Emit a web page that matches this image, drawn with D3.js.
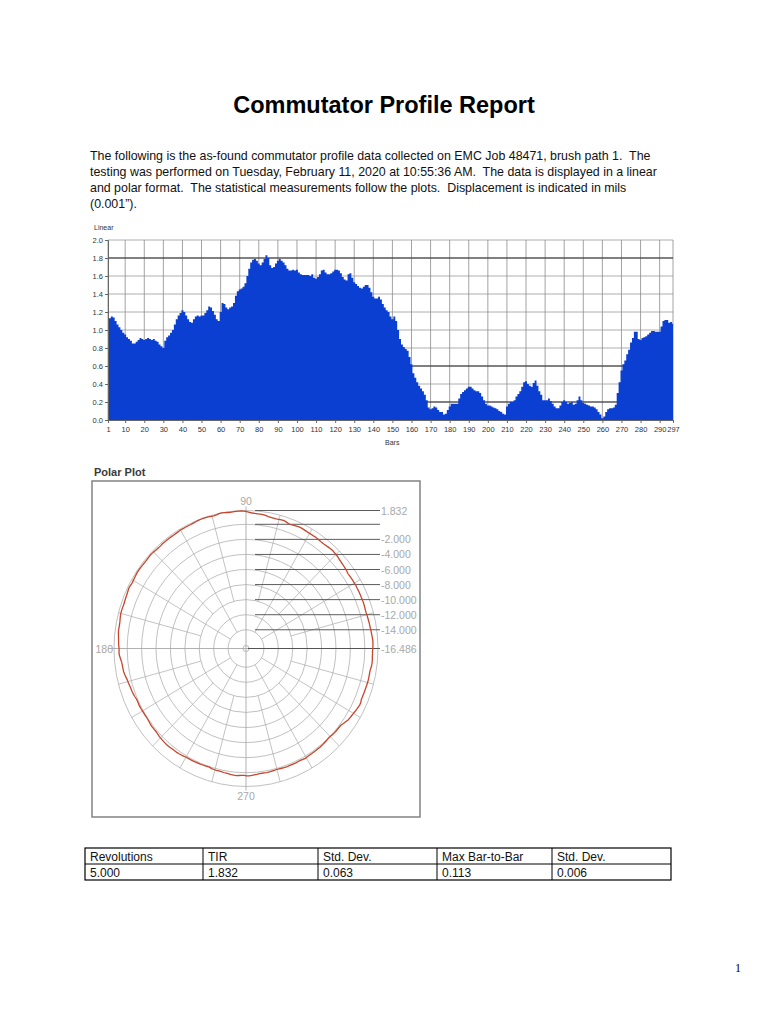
<!DOCTYPE html>
<html lang="en">
<head>
<meta charset="utf-8">
<title>Commutator Profile Report</title>
<script src="https://cdn.jsdelivr.net/npm/d3@7"></script>
<style>
  body { margin: 0; background: #fff; }
  svg { display: block; font-family: "Liberation Sans", Arial, sans-serif; }
  .small { font-size: 7px; fill: #333; }
  .axis text { font-size: 7.5px; fill: #333; font-family: "Liberation Sans", Arial, sans-serif; }
  .axis .domain { stroke: #666; }
  .axis line { stroke: #666; }
  .polar-lbl { font-size: 10.5px; fill: #a8a8a8; }
  .cell { font-size: 12px; fill: #111; }
</style>
</head>
<body>
<div id="page"></div>
<script>
// linear profile, one value per bar (mils)
const profile = [
  1.12, 1.13, 1.15, 1.14, 1.10, 1.06, 1.03, 1.00, 0.97, 0.95,
  0.92, 0.90, 0.88, 0.85, 0.85, 0.87, 0.89, 0.91, 0.90, 0.89,
  0.90, 0.91, 0.90, 0.89, 0.90, 0.88, 0.87, 0.84, 0.82, 0.80,
  0.88, 0.92, 0.94, 0.97, 1.00, 1.06, 1.12, 1.16, 1.19, 1.22,
  1.20, 1.16, 1.12, 1.09, 1.08, 1.12, 1.15, 1.16, 1.15, 1.16,
  1.16, 1.19, 1.22, 1.26, 1.25, 1.21, 1.17, 1.12, 1.10, 1.20,
  1.30, 1.29, 1.25, 1.23, 1.25, 1.26, 1.30, 1.38, 1.43, 1.45,
  1.46, 1.48, 1.52, 1.60, 1.68, 1.75, 1.78, 1.79, 1.77, 1.74,
  1.72, 1.75, 1.79, 1.83, 1.80, 1.72, 1.69, 1.70, 1.74, 1.77,
  1.79, 1.77, 1.75, 1.72, 1.68, 1.66, 1.66, 1.67, 1.66, 1.67,
  1.64, 1.62, 1.61, 1.61, 1.61, 1.61, 1.60, 1.62, 1.58, 1.57,
  1.59, 1.62, 1.66, 1.67, 1.64, 1.62, 1.62, 1.63, 1.65, 1.67,
  1.67, 1.66, 1.63, 1.59, 1.56, 1.55, 1.62, 1.63, 1.58, 1.53,
  1.51, 1.49, 1.47, 1.46, 1.48, 1.50, 1.50, 1.47, 1.42, 1.37,
  1.35, 1.35, 1.37, 1.34, 1.29, 1.25, 1.22, 1.20, 1.15, 1.12,
  1.15, 1.10, 1.00, 0.90, 0.84, 0.81, 0.79, 0.77, 0.70, 0.62,
  0.52, 0.47, 0.42, 0.38, 0.35, 0.32, 0.28, 0.22, 0.14, 0.12,
  0.13, 0.15, 0.14, 0.11, 0.09, 0.09, 0.06, 0.07, 0.11, 0.15,
  0.18, 0.18, 0.18, 0.18, 0.24, 0.29, 0.31, 0.33, 0.35, 0.37,
  0.37, 0.35, 0.33, 0.32, 0.32, 0.30, 0.26, 0.22, 0.18, 0.16,
  0.16, 0.15, 0.14, 0.13, 0.12, 0.10, 0.09, 0.07, 0.06, 0.15,
  0.18, 0.20, 0.20, 0.22, 0.26, 0.29, 0.32, 0.37, 0.42, 0.43,
  0.40, 0.38, 0.37, 0.41, 0.44, 0.38, 0.32, 0.28, 0.22, 0.22,
  0.22, 0.24, 0.21, 0.18, 0.15, 0.13, 0.13, 0.16, 0.20, 0.22,
  0.20, 0.18, 0.19, 0.20, 0.17, 0.18, 0.22, 0.26, 0.22, 0.19,
  0.18, 0.17, 0.16, 0.15, 0.15, 0.14, 0.12, 0.09, 0.06, 0.02,
  0.04, 0.09, 0.12, 0.13, 0.13, 0.14, 0.17, 0.30, 0.42, 0.55,
  0.62, 0.66, 0.73, 0.78, 0.86, 0.91, 0.98, 0.98, 0.90, 0.89,
  0.91, 0.92, 0.93, 0.95, 0.97, 0.99, 0.99, 0.98, 0.98, 0.98,
  1.04, 1.10, 1.11, 1.11, 1.08, 1.09, 1.07
];
const barTicks = [1, 10, 20, 30, 40, 50, 60, 70, 80, 90, 100, 110, 120, 130, 140, 150,
                  160, 170, 180, 190, 200, 210, 220, 230, 240, 250, 260, 270, 280, 290, 297];
const yTicks = [0, 0.2, 0.4, 0.6, 0.8, 1.0, 1.2, 1.4, 1.6, 1.8, 2.0];
const refLines = [1.8, 0.6, 0.2];

// polar plot scale
const polarRings = [-14, -12, -10, -8, -6, -4, -2, 0, 1.832];
const polarMarks = [1.832, 0, -2, -4, -6, -8, -10, -12, -14, -16.486];
const polarLabels = ["1.832", "", "-2.000", "-4.000", "-6.000", "-8.000", "-10.000", "-12.000", "-14.000", "-16.486"];
const angleLabels = ["90", "180", "270"];

// statistics table
const statHeads = ["Revolutions", "TIR", "Std. Dev.", "Max Bar-to-Bar", "Std. Dev."];
const statVals = ["5.000", "1.832", "0.063", "0.113", "0.006"];

const paragraph = [
  "The following is the as-found commutator profile data collected on EMC Job 48471, brush path 1.  The",
  "testing was performed on Tuesday, February 11, 2020 at 10:55:36 AM.  The data is displayed in a linear",
  "and polar format.  The statistical measurements follow the plots.  Displacement is indicated in mils",
  "(0.001\u201d)."
];

const svg = d3.select("#page").append("svg")
  .attr("width", 768).attr("height", 1024);

svg.append("rect").attr("width", 768).attr("height", 1024).attr("fill", "#fff");

// Title + intro text
svg.append("text")
  .attr("x", 384).attr("y", 113)
  .attr("text-anchor", "middle")
  .style("font-size", "23.5px").style("font-weight", "bold")
  .text("Commutator Profile Report");

svg.selectAll(".para").data(paragraph).join("text")
  .attr("class", "para")
  .attr("x", 90).attr("y", (d, i) => 159.5 + i * 16)
  .style("font-size", "12.4px").style("white-space", "pre").attr("fill", "#111")
  .text(d => d);

// ---------- Linear chart ----------
const data = profile.map((v, i) => ({ bar: i + 1, v: v }));
const x = d3.scaleLinear().domain([1, 297]).range([108, 673]);
const y = d3.scaleLinear().domain([0, 2]).range([420, 240]);

const lin = svg.append("g");

lin.append("text").attr("class", "small").attr("x", 94).attr("y", 230).text("Linear");

// grid
lin.selectAll(".hgrid").data(yTicks).join("line")
  .attr("x1", x(1)).attr("x2", x(297))
  .attr("y1", d => y(d)).attr("y2", d => y(d))
  .attr("stroke", "#9a9a9a").attr("stroke-width", 0.8);
lin.selectAll(".vgrid").data(barTicks).join("line")
  .attr("x1", d => x(d)).attr("x2", d => x(d))
  .attr("y1", y(0)).attr("y2", y(2))
  .attr("stroke", "#8c8c8c").attr("stroke-width", 0.8);
lin.selectAll(".ref").data(refLines).join("line")
  .attr("x1", x(1)).attr("x2", x(297))
  .attr("y1", d => y(d)).attr("y2", d => y(d))
  .attr("stroke", "#2a2a2a").attr("stroke-width", 1.2);

// profile fill
lin.append("path")
  .datum(data)
  .attr("fill", "#0a3fd1")
  .attr("d", d3.area()
    .curve(d3.curveStep)
    .x(d => x(d.bar))
    .y0(y(0))
    .y1(d => y(d.v)));

lin.append("g").attr("class", "axis")
  .attr("transform", `translate(0,${y(0)})`)
  .call(d3.axisBottom(x).tickValues(barTicks).tickSize(3).tickPadding(4).tickFormat(d3.format("d")));
lin.append("g").attr("class", "axis")
  .attr("transform", `translate(${x(1)},0)`)
  .call(d3.axisLeft(y).tickValues(yTicks).tickSize(3).tickPadding(2).tickFormat(d3.format(".1f")));

lin.append("text").attr("class", "small").attr("x", 385).attr("y", 445).text("Bars");

// ---------- Polar plot ----------
const cx = 246, cy = 648.5, rx = 132, ry = 138;
const r = d3.scaleLinear().domain([-16.486, 1.832]).range([0, 1]);
const pol = svg.append("g");

pol.append("text").attr("x", 94).attr("y", 476)
  .style("font-size", "11px").style("font-weight", "bold").attr("fill", "#3a3a3a")
  .text("Polar Plot");
pol.append("rect").attr("x", 92).attr("y", 481).attr("width", 328).attr("height", 336)
  .attr("fill", "#fff").attr("stroke", "#8a8a8a").attr("stroke-width", 1.6);

// spokes every 15 degrees
const spokes = d3.range(0, 360, 15).filter(a => a % 90 !== 0);
pol.selectAll(".spoke").data(spokes).join("line")
  .attr("x1", a => cx + rx * r(a % 30 === 0 ? -14 : -10) * Math.cos(a * Math.PI / 180))
  .attr("y1", a => cy - ry * r(a % 30 === 0 ? -14 : -10) * Math.sin(a * Math.PI / 180))
  .attr("x2", a => cx + rx * r(1.832) * Math.cos(a * Math.PI / 180))
  .attr("y2", a => cy - ry * r(1.832) * Math.sin(a * Math.PI / 180))
  .attr("stroke", "#b4b4b4").attr("stroke-width", 0.8);

pol.selectAll(".ring").data(polarRings).join("ellipse")
  .attr("cx", cx).attr("cy", cy)
  .attr("rx", d => rx * r(d)).attr("ry", d => ry * r(d))
  .attr("fill", "none").attr("stroke", "#b0b0b0").attr("stroke-width", 0.8);
pol.append("circle").attr("cx", cx).attr("cy", cy).attr("r", 3)
  .attr("fill", "none").attr("stroke", "#aaa").attr("stroke-width", 0.8);

// main axes
pol.append("line").attr("x1", cx - rx - 6).attr("x2", cx + rx + 2).attr("y1", cy).attr("y2", cy)
  .attr("stroke", "#a8a8a8").attr("stroke-width", 0.9);
pol.append("line").attr("x1", cx).attr("x2", cx).attr("y1", cy - ry - 4).attr("y2", cy + ry + 4)
  .attr("stroke", "#a8a8a8").attr("stroke-width", 0.9);

// scale marker lines on the right
pol.selectAll(".mark").data(polarMarks).join("line")
  .attr("x1", (d, i) => i === polarMarks.length - 1 ? cx + 2 : cx + 9)
  .attr("x2", cx + rx + 2)
  .attr("y1", d => cy - ry * r(d)).attr("y2", d => cy - ry * r(d))
  .attr("stroke", "#4a4a4a").attr("stroke-width", 0.9);
pol.selectAll(".mlbl").data(polarMarks).join("text")
  .attr("class", "polar-lbl")
  .attr("x", cx + rx + 3)
  .attr("y", d => cy - ry * r(d) + 4)
  .text((d, i) => polarLabels[i]);

pol.append("text").attr("class", "polar-lbl").attr("x", cx).attr("y", cy - ry - 6)
  .attr("text-anchor", "middle").text(angleLabels[0]);
pol.append("text").attr("class", "polar-lbl").attr("x", cx - rx - 1).attr("y", cy + 4)
  .attr("text-anchor", "end").text(angleLabels[1]);
pol.append("text").attr("class", "polar-lbl").attr("x", cx).attr("y", cy + ry + 13)
  .attr("text-anchor", "middle").text(angleLabels[2]);

// trace: bar i at angle (i-1)/297 of a turn
pol.append("path")
  .datum(data)
  .attr("fill", "none").attr("stroke", "#c8452c").attr("stroke-width", 1.3)
  .attr("d", d3.line()
    .curve(d3.curveLinearClosed)
    .x(d => cx + rx * r(d.v) * Math.cos((d.bar - 1) / 297 * 2 * Math.PI))
    .y(d => cy - ry * r(d.v) * Math.sin((d.bar - 1) / 297 * 2 * Math.PI)));

// ---------- Statistics table ----------
const colX = [85, 203, 318, 437, 552, 671];
const tab = svg.append("g");
tab.append("rect").attr("x", 85).attr("y", 848).attr("width", 586).attr("height", 32)
  .attr("fill", "none").attr("stroke", "#000").attr("stroke-width", 1.2);
tab.append("line").attr("x1", 85).attr("x2", 671).attr("y1", 864).attr("y2", 864)
  .attr("stroke", "#000").attr("stroke-width", 1);
tab.selectAll(".col").data(colX.slice(1, -1)).join("line")
  .attr("x1", d => d).attr("x2", d => d).attr("y1", 848).attr("y2", 880)
  .attr("stroke", "#000").attr("stroke-width", 1);
tab.selectAll(".hd").data(statHeads).join("text")
  .attr("class", "cell").attr("x", (d, i) => colX[i] + 5).attr("y", 861).text(d => d);
tab.selectAll(".vl").data(statVals).join("text")
  .attr("class", "cell").attr("x", (d, i) => colX[i] + 5).attr("y", 877).text(d => d);

// page number
svg.append("text").attr("x", 735).attr("y", 972)
  .style("font-family", "'Liberation Serif', 'Times New Roman', serif").style("font-size", "12px")
  .text("1");
</script>
</body>
</html>
